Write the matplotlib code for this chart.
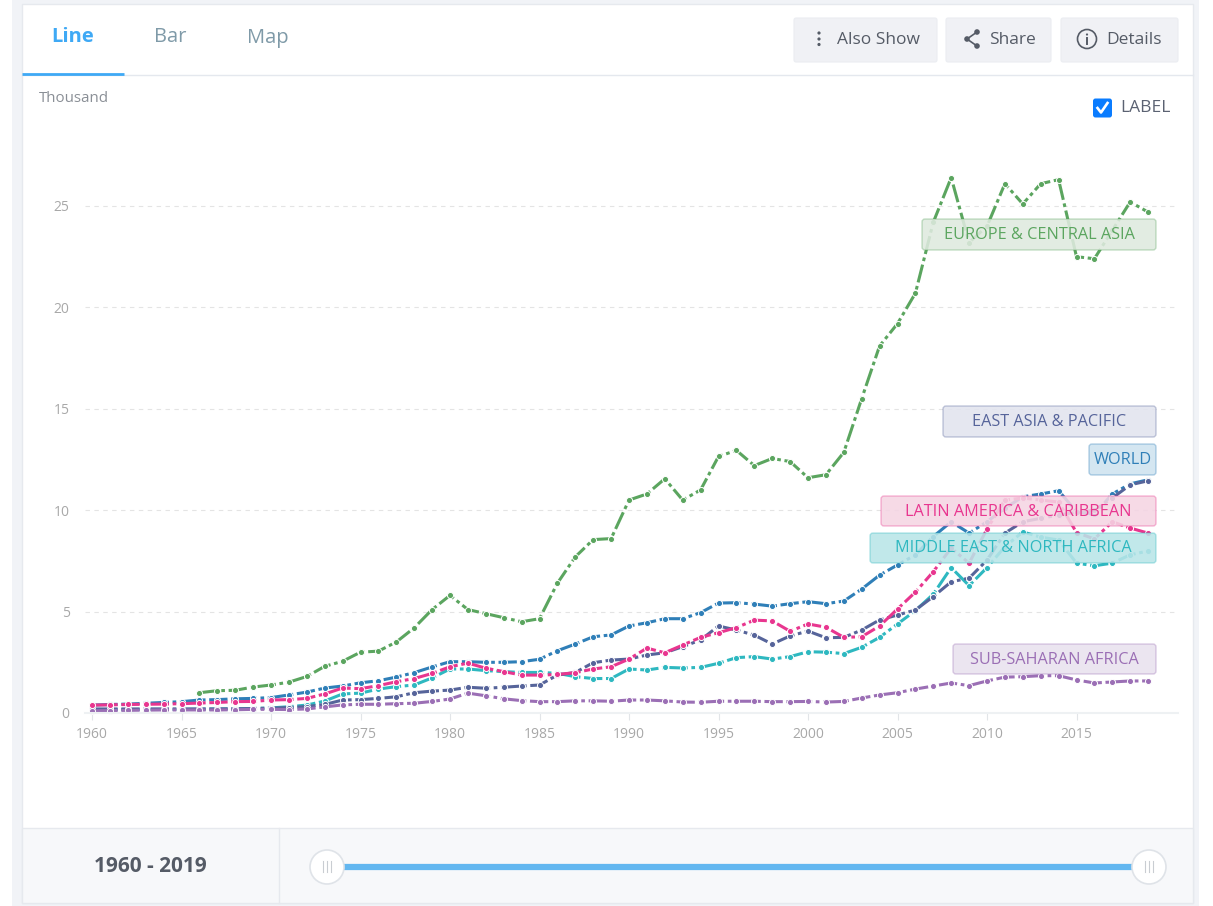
import numpy as np
import matplotlib
matplotlib.use("Agg")
import matplotlib.pyplot as plt
from matplotlib.patches import FancyBboxPatch, Rectangle, Circle

plt.rcParams['font.family'] = ['Open Sans', 'DejaVu Sans']

years = list(range(1960, 2020))
x_ticks = list(range(1960, 2016, 5))
y_ticks = [0, 5, 10, 15, 20, 25]

# values in thousand
europe = [None, None, None, None, None, None,
          1.0, 1.1, 1.12, 1.28, 1.38, 1.52, 1.8, 2.3, 2.55, 3.0, 3.05, 3.5, 4.2, 5.1,
          5.8, 5.1, 4.9, 4.7, 4.5, 4.65, 6.4, 7.7, 8.55, 8.6, 10.5, 10.8, 11.55, 10.5, 11.0, 12.65, 12.95, 12.2, 12.55, 12.4,
          11.6, 11.75, 12.85, 15.5, 18.1, 19.2, 20.7, 24.2, 26.4, 23.2, 24.0, 26.1, 25.1, 26.1, 26.3, 22.5, 22.4, 23.8, 25.2, 24.7]
world = [0.39, 0.42, 0.44, 0.48, 0.52, 0.56, 0.64, 0.66, 0.7, 0.72, 0.76, 0.89, 1.03, 1.23, 1.33, 1.49, 1.59, 1.77, 1.99, 2.27,
         2.53, 2.53, 2.5, 2.5, 2.53, 2.65, 3.07, 3.4, 3.76, 3.85, 4.29, 4.45, 4.65, 4.65, 4.95, 5.42, 5.44, 5.37, 5.27, 5.39,
         5.49, 5.39, 5.52, 6.11, 6.8, 7.3, 7.8, 8.7, 9.43, 8.87, 9.43, 10.1, 10.66, 10.8, 10.96, 9.93, 9.8, 10.8, 11.3, 11.5]
east_asia = [0.2, 0.2, 0.2, 0.2, 0.2, 0.2, 0.2, 0.2, 0.21, 0.22, 0.24, 0.27, 0.32, 0.42, 0.64, 0.66, 0.72, 0.8, 1.0, 1.08,
             1.13, 1.27, 1.22, 1.27, 1.33, 1.38, 1.87, 2.0, 2.48, 2.61, 2.66, 2.86, 2.97, 3.27, 3.6, 4.29, 4.09, 3.84, 3.4, 3.8,
             4.04, 3.71, 3.73, 4.09, 4.59, 4.83, 5.08, 5.74, 6.47, 6.65, 7.54, 8.87, 9.43, 9.6, 9.76, 9.9, 10.0, 10.6, 11.25, 11.45]
latin = [0.39, 0.4, 0.42, 0.43, 0.44, 0.46, 0.49, 0.52, 0.56, 0.57, 0.64, 0.66, 0.72, 0.94, 1.23, 1.2, 1.35, 1.54, 1.7, 1.95,
         2.28, 2.46, 2.21, 2.04, 1.87, 1.87, 1.9, 1.99, 2.17, 2.28, 2.66, 3.2, 2.97, 3.35, 3.73, 3.96, 4.21, 4.58, 4.54, 4.03,
         4.39, 4.23, 3.73, 3.76, 4.29, 5.13, 5.96, 6.97, 8.13, 7.39, 9.07, 10.5, 10.6, 10.5, 10.4, 8.9, 8.58, 9.43, 9.12, 8.87]
mena = [0.17, 0.17, 0.17, 0.18, 0.18, 0.18, 0.19, 0.2, 0.2, 0.22, 0.25, 0.31, 0.39, 0.59, 0.94, 0.98, 1.18, 1.3, 1.38, 1.73,
        2.17, 2.17, 2.09, 2.04, 2.0, 2.0, 1.96, 1.79, 1.7, 1.7, 2.17, 2.12, 2.25, 2.22, 2.25, 2.45, 2.73, 2.78, 2.66, 2.78,
        3.02, 3.0, 2.93, 3.24, 3.73, 4.39, 5.05, 5.86, 7.17, 6.28, 7.17, 8.2, 8.93, 8.67, 8.53, 7.39, 7.26, 7.39, 7.8, 7.99]
africa = [0.11, 0.12, 0.13, 0.14, 0.15, 0.15, 0.15, 0.15, 0.16, 0.18, 0.18, 0.17, 0.2, 0.3, 0.4, 0.43, 0.43, 0.46, 0.48, 0.57,
          0.69, 0.98, 0.85, 0.7, 0.61, 0.56, 0.56, 0.6, 0.6, 0.58, 0.64, 0.64, 0.6, 0.54, 0.53, 0.58, 0.58, 0.58, 0.56, 0.56,
          0.57, 0.54, 0.57, 0.74, 0.89, 1.0, 1.18, 1.33, 1.48, 1.35, 1.58, 1.77, 1.79, 1.84, 1.84, 1.63, 1.48, 1.53, 1.58, 1.58]

W, H = 1213, 906
fig = plt.figure(figsize=(W / 100, H / 100), dpi=100, facecolor='white')

# page chrome, in pixel coordinates
bg = fig.add_axes([0, 0, 1, 1])
bg.set_xlim(0, W)
bg.set_ylim(H, 0)
bg.axis('off')

bg.add_patch(Rectangle((12, 0), 1187, H, fc='#f1f3f7', ec='none'))
bg.add_patch(Rectangle((22, 4), 1171, 899, fc='white', ec='#e6e9ee', lw=1))
bg.plot([22, 1193], [75, 75], color='#e4e8ee', lw=1)
bg.plot([22, 124], [73.5, 73.5], color='#3fa9f5', lw=2, solid_capstyle='butt')
bg.text(73, 37.5, 'Line', color='#3fa9f5', fontsize=14.5, fontweight='bold', ha='center', va='center')
bg.text(170, 37.5, 'Bar', color='#7f9aa8', fontsize=14.5, ha='center', va='center')
bg.text(268, 37.5, 'Map', color='#7f9aa8', fontsize=14.5, ha='center', va='center')

for x0, x1, label, tx in [(794, 937, 'Also Show', 837), (946, 1051, 'Share', 989), (1061, 1178, 'Details', 1106)]:
    bg.add_patch(FancyBboxPatch((x0, 18), x1 - x0, 44, boxstyle='round,pad=0,rounding_size=2', fc='#f0f1f5', ec='#ebedf1', lw=0.8))
    bg.text(tx, 40, label, color='#555b66', fontsize=12.5, ha='left', va='center')

# button icons
for y in [33, 39, 44.5]:
    bg.add_patch(Circle((819, y), 1.6, fc='#555b66', ec='none'))
bg.plot([977, 967, 977], [32, 39, 46], color='#555b66', lw=1.2)
for cx, cy in [(977, 32), (967, 39), (977, 46)]:
    bg.add_patch(Circle((cx, cy), 2.8, fc='#555b66', ec='none'))
bg.add_patch(Circle((1087, 39), 9.5, fc='none', ec='#555b66', lw=1.2))
bg.plot([1087, 1087], [38, 44], color='#555b66', lw=1.4)
bg.add_patch(Circle((1087, 34.5), 1.1, fc='#555b66', ec='none'))

# checkbox
bg.add_patch(FancyBboxPatch((1093, 98.5), 19, 19, boxstyle='round,pad=0,rounding_size=2.5', fc='#0a7cff', ec='none'))
bg.plot([1097.5, 1101, 1107.5], [108, 112.5, 103], color='white', lw=1.9)
bg.text(1120, 108, 'LABEL', color='#5b6272', fontsize=12.5, ha='left', va='center')
bg.text(39, 98, 'Thousand', color='#8a8f96', fontsize=10.8, ha='left', va='center')

# footer
bg.add_patch(Rectangle((22, 828), 1171, 75, fc='#f7f8fa', ec='#e6e9ee', lw=1))
bg.plot([279, 279], [828, 903], color='#e6e9ee', lw=1)
bg.text(150, 866.5, '1960 - 2019', color='#555b66', fontsize=15, fontweight='bold', ha='center', va='center')
bg.plot([330, 1146], [867, 867], color='#63b7f0', lw=4.5, solid_capstyle='butt')
for cx in [327, 1149]:
    bg.add_patch(Circle((cx, 867), 17, fc='white', ec='#dfe3e8', lw=1.2, zorder=3))
    for dx in [-4, 0, 4]:
        bg.plot([cx + dx, cx + dx], [861, 872], color='#c9cdd2', lw=0.8, zorder=4)

# chart area: 1960 sits at x=92, 0 at y=713, 25 at y=206
px_year = 17.9
px_unit = 20.28
left, right, top, bottom = 85, 1178, 100, 713
ax = fig.add_axes([left / W, 1 - bottom / H, (right - left) / W, (bottom - top) / H])
ax.patch.set_alpha(0)
ax.set_xlim(1960 - (92 - left) / px_year, 1960 + (right - 92) / px_year)
ax.set_ylim(0, (bottom - top) / px_unit)

for s in ['top', 'left', 'right']:
    ax.spines[s].set_visible(False)
ax.spines['bottom'].set_color('#eef1f3')
ax.spines['bottom'].set_linewidth(1.5)
ax.set_xticks(x_ticks)
ax.set_yticks(y_ticks)
ax.tick_params(axis='x', colors='#a8a8a8', labelsize=10, length=5, width=0.8, color='#e2e5e8', pad=5)
ax.tick_params(axis='y', colors='#a8a8a8', labelsize=10, length=0, pad=11)
ax.yaxis.grid(True, color='#e4e4e4', lw=0.8, ls=(0, (4, 4)))
ax.set_axisbelow(True)

# draw order as in the picture: pink over blue, purple over the rest at the left
series = [(world, '#2f7fb8'), (mena, '#2eb8c0'), (east_asia, '#56649a'), (latin, '#e8368f'),
          (africa, '#9b6fb5'), (europe, '#5ba55f')]
for vals, col in series:
    y = np.array([np.nan if v is None else v for v in vals])
    ax.plot(years, y, color=col, lw=2.2, ls=(0, (6, 1.2, 1.2, 1.2)), marker='o', ms=4.4,
            mfc=col, mec='white', mew=0.7, clip_on=False)

# labels sit on top of the lines, nearly opaque
over = fig.add_axes([0, 0, 1, 1])
over.set_xlim(0, W)
over.set_ylim(H, 0)
over.axis('off')
over.patch.set_alpha(0)
labels = [('EUROPE & CENTRAL ASIA', 922, 219, 250, '#5ba55f', '#dfeadf'),
          ('EAST ASIA & PACIFIC', 943, 406, 437, '#56649a', '#e2e4ef'),
          ('WORLD', 1089, 444, 475, '#2f7fb8', '#cfe3f0'),
          ('LATIN AMERICA & CARIBBEAN', 881, 496, 526, '#e8368f', '#f5d5e3'),
          ('MIDDLE EAST & NORTH AFRICA', 870, 533, 563, '#2eb8c0', '#b9e5e8'),
          ('SUB-SAHARAN AFRICA', 953, 644, 674, '#9b6fb5', '#e9e2ef')]
for text, x0, y0, y1, col, fill in labels:
    over.add_patch(FancyBboxPatch((x0, y0), 1156 - x0, y1 - y0, boxstyle='round,pad=0,rounding_size=3',
                                  fc=matplotlib.colors.to_rgba(fill, 0.88), ec=matplotlib.colors.to_rgba(col, 0.35), lw=1))
    over.text((x0 + 1156) / 2, (y0 + y1) / 2 + 0.5, text, color=col, fontsize=11.7, ha='center', va='center')

fig.savefig('out.png', dpi=100)
